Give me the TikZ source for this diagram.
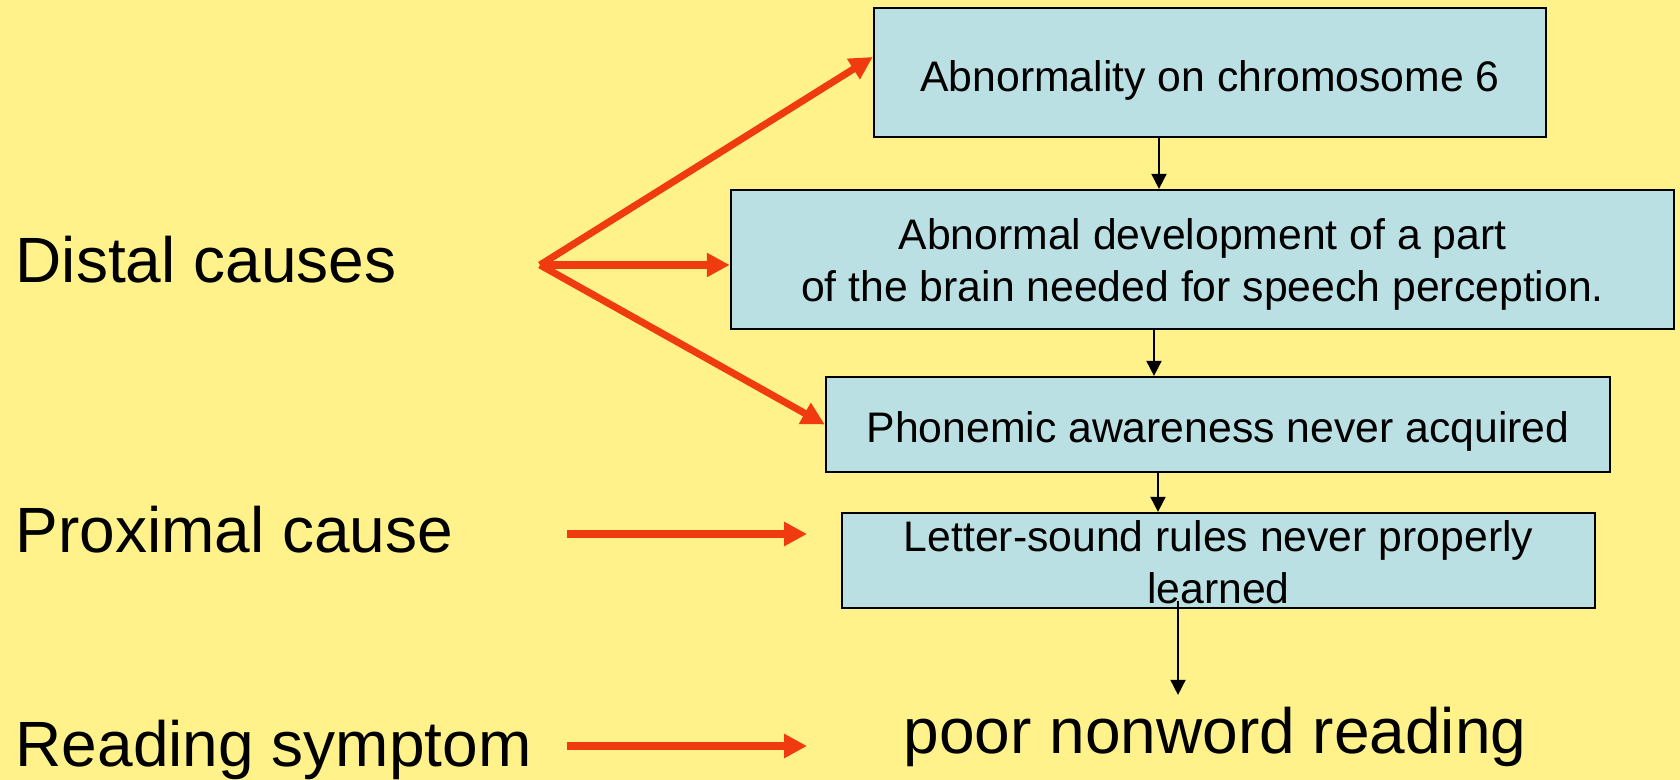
\documentclass[tikz,border=0pt]{standalone}
\usepackage{fontspec}
\setmainfont{Liberation Sans}
\usepackage{tikz}
\usetikzlibrary{positioning}
\usetikzlibrary{arrows.meta}
\definecolor{slideyellow}{RGB}{255,242,138}
\definecolor{boxblue}{RGB}{187,224,227}
\definecolor{causered}{RGB}{240,58,16}

\begin{document}
\begin{tikzpicture} [x = 0.01cm, y = -0.01cm,
    label/.style = {anchor = base west, inner sep = 0, font = \fontsize{18.2}{22}\selectfont},
    stage/.style = {draw, line width = 0.6pt, fill = boxblue, align = center, inner sep = 0,
      font = \fontsize{12.15}{14.8}\selectfont},
    cause/.style = {causered, line width = 2pt, -{Triangle[length = 6.5pt, width = 6.5pt]}},
    link/.style = {line width = 0.5pt, -{Triangle[length = 4.3pt, width = 4.3pt]}}]
    \fill [slideyellow] (0,0) rectangle (1680,780);
    \node [label] (distal) at (15,283) {Distal causes};
    \node [label] (proximal) at (15,553) {Proximal cause};
    \node [label] (symptom) at (15,766) {Reading symptom};
    \node [stage, minimum width = 6.72cm, minimum height = 1.29cm] (chrom) at (1210,72.5) {\rule{0pt}{13.1pt}Abnormality on chromosome 6};
    \node [stage, minimum width = 9.43cm, minimum height = 1.39cm] (brain) at (1202.5,259.5) {\rule{0pt}{11.6pt}Abnormal development of a part\\of the brain needed for speech perception.};
    \node [stage, minimum width = 7.84cm, minimum height = 0.95cm] (phon) at (1218,424.5) {\rule{0pt}{12.5pt}Phonemic awareness never acquired};
    \node [stage, minimum width = 7.53cm, minimum height = 0.95cm] (letter) at (1218.5,560.5) {\rule{0pt}{9.9pt}Letter-sound rules never properly\\learned};
    \node [label, anchor = base, inner sep = 0] (poor) at (1215,753) {poor nonword reading};
    \coordinate (fork) at (540,265);
    \draw [cause] (fork) -- ([yshift = 0.155cm]chrom.west);
    \draw [cause] (fork) -- (fork -| brain.west);
    \draw [cause] (fork) -- (phon.west);
    \coordinate (proxstart) at (567,534);
    \coordinate (proxend) at (807,534);
    \draw [cause] (proxstart) -- (proxend);
    \coordinate (readstart) at (567,746);
    \coordinate (readend) at (807,746);
    \draw [cause] (readstart) -- (readend);
    \draw [link] ([xshift = -0.51cm]chrom.south) -- ([xshift = -0.435cm]brain.north);
    \draw [link] ([xshift = -0.485cm]brain.south) -- ([xshift = -0.64cm]phon.north);
    \draw [link] ([xshift = -0.60cm]phon.south) -- ([xshift = -0.605cm]letter.north);
    \draw [link] ([xshift = -0.405cm, yshift = 0.08cm]letter.south) -- ([xshift = -0.37cm, yshift = 0.11cm]poor.north);
  \end{tikzpicture}
\end{document}
